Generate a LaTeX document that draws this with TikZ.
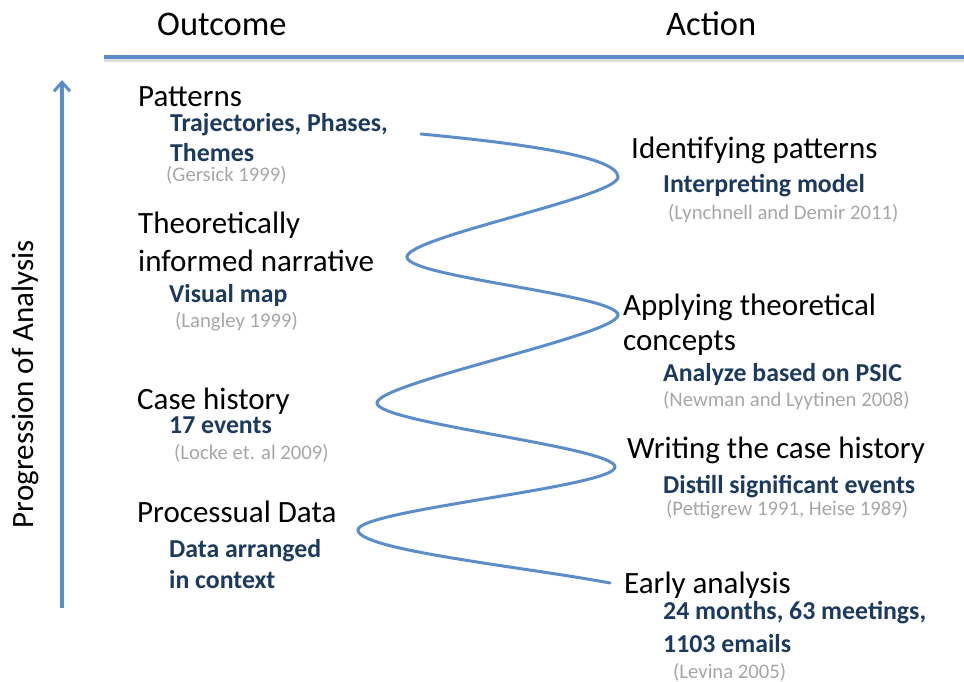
\documentclass[tikz,border=0pt]{standalone}
\usepackage{fontspec}
\setmainfont{Carlito}
\usetikzlibrary{arrows.meta}
\definecolor{flowblue}{HTML}{5B8EC8}
\definecolor{navy}{HTML}{1B3A5E}
\definecolor{citegray}{HTML}{A6A6A6}
\tikzset{
  x=1pt, y=-1pt,
  head/.style={anchor=base west, inner sep=0, font=\fontsize{34.5}{40}\selectfont},
  mainlbl/.style={anchor=base west, inner sep=0, font=\fontsize{31}{37}\selectfont},
  sublbl/.style={anchor=base west, inner sep=0, text=navy, font=\bfseries\fontsize{25.8}{30}\selectfont},
  citelbl/.style={anchor=base west, inner sep=0, text=citegray, font=\fontsize{20.7}{24}\selectfont},
  wave/.style={draw=flowblue, line width=3pt, line cap=round},
}
\begin{document}
\begin{tikzpicture}
\useasboundingbox (0,0) rectangle (964,682);
% headers
\node[head] (hout) at (157,36) {Outcome};
\node[head] (hact) at (666,36) {Action};
\coordinate (hl) at (104,57);
\coordinate (hr) at (964,57);
\draw[line width=4pt, draw=gray!25] ([yshift=-3pt]hl) -- ([yshift=-3pt]hr);
\draw[line width=4pt, draw=flowblue] (hl) -- (hr);
% progression arrow
\coordinate (ab) at (62,608);
\coordinate (at) at (62,80);
\draw[line width=3.5pt, draw=flowblue, -{Straight Barb[length=9pt,width=16pt,line width=3pt]}] (ab) -- (at);
\node[mainlbl, rotate=90, anchor=base] (prog) at (34,384) {Progression of Analysis};
% outcomes
\node[mainlbl] (o1) at (138,107) {Patterns};
\node[sublbl] (o1a) at (170,132) {Trajectories, Phases,};
\node[sublbl] (o1b) at (170,162) {Themes};
\node[citelbl] (o1c) at (166,182) {(Gersick 1999)};
\node[mainlbl] (o2) at (138,233) {Theoretically};
\node[mainlbl] (o2b) at (138,271) {informed narrative};
\node[sublbl] (o2a) at (169,302) {Visual map};
\node[citelbl] (o2c) at (175,327) {(Langley 1999)};
\node[mainlbl] (o3) at (137,409) {Case history};
\node[sublbl] (o3a) at (169,433) {17 events};
\node[citelbl] (o3c) at (174,459) {(Locke et. al 2009)};
\node[mainlbl] (o4) at (137,522) {Processual Data};
\node[sublbl] (o4a) at (169,557) {Data arranged};
\node[sublbl] (o4b) at (169,588) {in context};
% actions
\node[mainlbl] (a1) at (631,159) {Identifying patterns};
\node[sublbl] (a1a) at (663,193) {Interpreting model};
\node[citelbl] (a1c) at (668,219) {(Lynchnell and Demir 2011)};
\node[mainlbl] (a2) at (623,315) {Applying theoretical};
\node[mainlbl] (a2b) at (623,350) {concepts};
\node[sublbl] (a2a) at (663,381) {Analyze based on PSIC};
\node[citelbl] (a2c) at (663,406) {(Newman and Lyytinen 2008)};
\node[mainlbl] (a3) at (627,458) {Writing the case history};
\node[sublbl] (a3a) at (663,493) {Distill significant events};
\node[citelbl] (a3c) at (666,515) {(Pettigrew 1991, Heise 1989)};
\node[mainlbl] (a4) at (624,593) {Early analysis};
\node[sublbl] (a4a) at (663,619) {24 months, 63 meetings,};
\node[sublbl] (a4b) at (663,652) {1103 emails};
\node[citelbl] (a4c) at (673,678) {(Levina 2005)};
% wave
\coordinate (ws) at (421,134);
\coordinate (r1) at (618,177);
\coordinate (l1) at (407,257);
\coordinate (r2) at (618,315);
\coordinate (l2) at (377,403);
\coordinate (r3) at (615,467);
\coordinate (l3) at (358,530);
\coordinate (we) at (610,583);
\draw[wave] (ws) .. controls (505,142) and (618,155) .. (r1)
  .. controls (618,197) and (407,237) .. (l1)
  .. controls (407,277) and (618,295) .. (r2)
  .. controls (618,335) and (377,383) .. (l2)
  .. controls (377,423) and (615,447) .. (r3)
  .. controls (615,487) and (358,510) .. (l3)
  .. controls (358,550) and (525,567) .. (we);
\end{tikzpicture}
\end{document}
